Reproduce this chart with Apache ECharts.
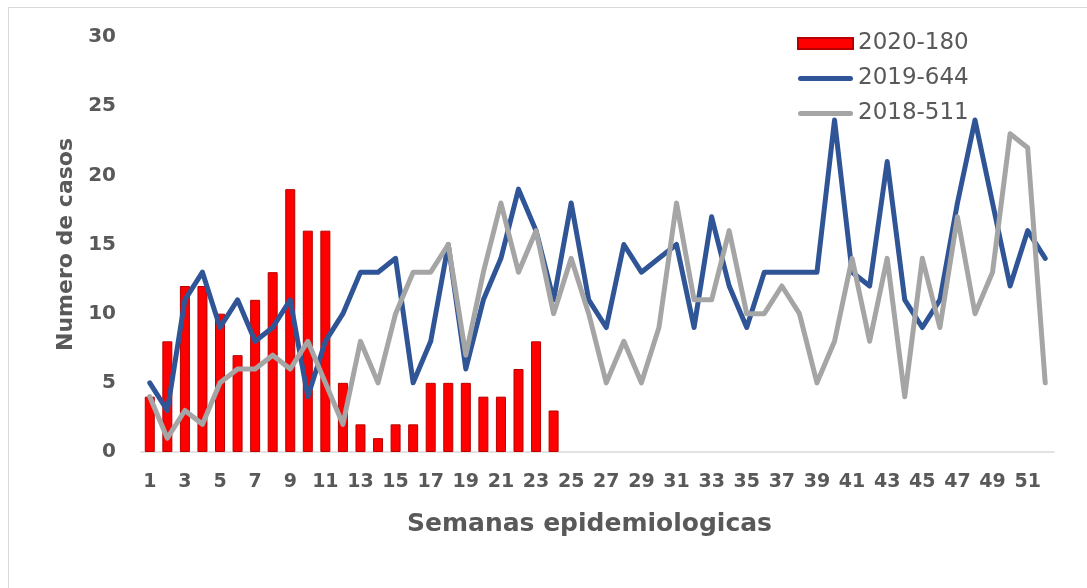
<!DOCTYPE html>
<html><head><meta charset="utf-8">
<script src="https://cdn.jsdelivr.net/npm/echarts@6/dist/echarts.min.js"></script>
<style>html,body{margin:0;padding:0;background:#fff}#c{width:1087px;height:588px}</style>
</head><body><div id="c"></div>
<script>
const weeks = ['1','2','3','4','5','6','7','8','9','10','11','12','13','14','15','16','17','18','19','20','21','22','23','24','25','26','27','28','29','30','31','32','33','34','35','36','37','38','39','40','41','42','43','44','45','46','47','48','49','50','51','52'];
const seriesNames = ['2020-180','2019-644','2018-511'];
const cases2020 = [4,8,12,12,10,7,11,13,19,16,16,5,2,1,2,2,5,5,5,4,4,6,8,3];
const cases2019 = [5,3,11,13,9,11,8,9,11,4,8,10,13,13,14,5,8,15,6,11,14,19,16,11,18,11,9,15,13,14,15,9,17,12,9,13,13,13,13,24,13,12,21,11,9,11,18,24,18,12,16,14];
const cases2018 = [4,1,3,2,5,6,6,7,6,8,5,2,8,5,10,13,13,15,7,13,18,13,16,10,14,10,5,8,5,9,18,11,11,16,10,10,12,10,5,8,14,8,14,4,14,9,17,10,13,23,22,5];
const yTicks = {min:0, max:30, interval:5};
const xTitle = 'Semanas epidemiologicas';
const yTitle = 'Numero de casos';

const chart = echarts.init(document.getElementById('c'), null, {renderer:'canvas'});
const txt = '#595959';
const capsule = 'path://M2.5,0L52.5,0A2.5,2.5,0,0,1,52.5,5L2.5,5A2.5,2.5,0,0,1,2.5,0Z';
chart.setOption({
  animation:false,
  backgroundColor:'#fff',
  graphic:[{type:'rect', shape:{x:8.5,y:7.5,width:1100,height:640}, style:{fill:'none',stroke:'#D9D9D9',lineWidth:1}, silent:true, z:-1}],
  grid:{left:141, right:33, top:37, bottom:136, containLabel:false},
  legend:{
    orient:'vertical', left:792, top:27, itemWidth:55, itemHeight:11, itemGap:12,
    symbolKeepAspect:true,
    textStyle:{color:txt, fontFamily:'DejaVu Sans', fontSize:23, lineHeight:22},
    data:[
      {name:seriesNames[0], icon:'rect'},
      {name:seriesNames[1], icon:capsule, itemStyle:{color:'#2F5597'}},
      {name:seriesNames[2], icon:capsule, itemStyle:{color:'#A5A5A5'}}
    ]
  },
  xAxis:{
    type:'category', data:weeks, boundaryGap:true,
    axisLine:{show:true, lineStyle:{color:'#D9D9D9', width:1.5}},
    axisTick:{show:false},
    axisLabel:{interval:1, color:txt, fontFamily:'DejaVu Sans', fontWeight:'bold', fontSize:19, margin:21},
    name:xTitle, nameLocation:'middle', nameGap:60,
    nameTextStyle:{color:txt, fontFamily:'DejaVu Sans', fontWeight:'bold', fontSize:25, padding:[0,16,0,0]}
  },
  yAxis:{
    type:'value', min:yTicks.min, max:yTicks.max, interval:yTicks.interval,
    axisLine:{show:false}, axisTick:{show:false}, splitLine:{show:false},
    axisLabel:{color:txt, fontFamily:'DejaVu Sans', fontWeight:'bold', fontSize:20, margin:25},
    name:yTitle, nameLocation:'middle', nameGap:63, nameRotate:90,
    nameTextStyle:{color:txt, fontFamily:'DejaVu Sans', fontWeight:'bold', fontSize:22}
  },
  series:[
    {name:seriesNames[0], type:'bar', data:cases2020, barWidth:10,
     itemStyle:{color:'#FF0000', borderColor:'#B80000', borderWidth:1}},
    {name:seriesNames[1], type:'line', data:cases2019, symbol:'none', showSymbol:false,
     itemStyle:{color:'#2F5597'},
     lineStyle:{color:'#2F5597', width:5, cap:'round', join:'round'}},
    {name:seriesNames[2], type:'line', data:cases2018, symbol:'none', showSymbol:false,
     itemStyle:{color:'#A5A5A5'},
     lineStyle:{color:'#A5A5A5', width:5, cap:'round', join:'round'}}
  ]
});
</script></body></html>
